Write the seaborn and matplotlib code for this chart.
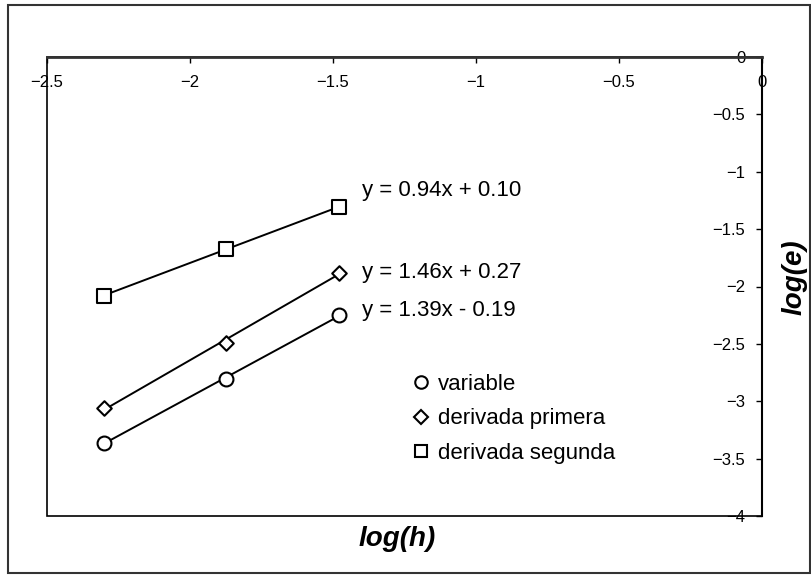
import numpy as np
import pandas as pd
import matplotlib
matplotlib.use("Agg")
import matplotlib.pyplot as plt
from matplotlib.lines import Line2D
from matplotlib.patches import Rectangle
import seaborn as sns

sns.set_theme(style="white")
plt.rcParams['font.family'] = ['Liberation Sans', 'DejaVu Sans']
plt.rcParams['text.color'] = 'black'
plt.rcParams['xtick.color'] = 'black'
plt.rcParams['ytick.color'] = 'black'

# data
log_h = [-2.30, -1.875, -1.48]
variable = [-3.36, -2.81, -2.25]
primera = [-3.06, -2.49, -1.88]
segunda = [-2.08, -1.67, -1.31]
series_names = ["variable", "derivada primera", "derivada segunda"]
equations = ["y = 1.39x - 0.19", "y = 1.46x + 0.27", "y = 0.94x + 0.10"]
eq_y = [-2.21, -1.88, -1.16]
x_ticks = [-2.5, -2, -1.5, -1, -0.5, 0]
y_ticks = [0, -0.5, -1, -1.5, -2, -2.5, -3, -3.5, -4]

markers = {"variable": "o", "derivada primera": "D", "derivada segunda": "s"}
msizes = {"variable": 100, "derivada primera": 55, "derivada segunda": 90}

df = pd.DataFrame({
    "log_h": log_h * 3,
    "log_e": variable + primera + segunda,
    "serie": [s for s in series_names for _ in log_h],
})

fig = plt.figure(figsize=(8.12, 5.75), dpi=100)
ax = fig.add_axes([47/812, 1-516/575, 715/812, 459/575])

#trend lines (excel style linear fit over the data range)
for name in series_names:
    sub = df[df.serie == name]
    sns.regplot(data=sub, x="log_h", y="log_e", scatter=False, ci=None, truncate=True,
                color="black", line_kws={"lw": 1.4}, ax=ax)

for name in series_names:
    sub = df[df.serie == name]
    sns.scatterplot(data=sub, x="log_h", y="log_e", marker=markers[name], s=msizes[name],
                    color="white", edgecolor="black", linewidth=1.5, zorder=5, ax=ax, legend=False)

for txt, yy in zip(equations, eq_y):
    ax.text(-1.40, yy, txt, fontsize=16, va="center", ha="left")

ax.set_xlim(-2.5, 0)
ax.set_ylim(-4, 0)
ax.set_xticks(x_ticks)
ax.set_yticks(y_ticks)
ax.set_xticklabels([f"{v:g}".replace("-", "\u2212") for v in x_ticks])
ax.set_yticklabels([f"{v:g}".replace("-", "\u2212") for v in y_ticks])

# axes cross at (0,0): x axis on top, y axis on the right
ax.spines['bottom'].set_position(('data', 0))
ax.spines['left'].set_position(('data', 0))
ax.spines['top'].set_visible(False)
ax.spines['right'].set_visible(False)
ax.spines['bottom'].set_color('#333333')
ax.spines['bottom'].set_linewidth(2)
ax.spines['left'].set_color('black')
ax.spines['left'].set_linewidth(1.5)
ax.patch.set_edgecolor('black')
ax.patch.set_linewidth(1.2)
ax.tick_params(axis='x', direction='out', length=4, width=1, pad=9, labelsize=12)
ax.tick_params(axis='y', direction='out', length=4, width=1, pad=8, labelsize=12)
ax.tick_params(bottom=True, left=True)
ax.set_xlabel("")
ax.set_ylabel("")

ax.text(0.49, -0.05, "log(h)", transform=ax.transAxes, fontsize=20, fontweight='bold',
        fontstyle='italic', ha='center', va='center')
fig.text(795/812, 1-277/575, "log(e)", fontsize=20, fontweight='bold', fontstyle='italic',
         rotation=90, ha='center', va='center')

handles = [Line2D([], [], ls='none', marker=markers[n], markersize=9 if n != "derivada primera" else 7,
                  markerfacecolor='white', markeredgecolor='black', markeredgewidth=1.5) for n in series_names]
ax.legend(handles, series_names, loc='upper left', bbox_to_anchor=(0.51, 0.31), frameon=False,
          fontsize=16, handlelength=0.8, handletextpad=0.4, labelspacing=0.62,
          borderpad=0, borderaxespad=0)

fig.patches.append(Rectangle((8/812, 2/575), 802/812, 568/575, transform=fig.transFigure,
                             fill=False, edgecolor='#333333', linewidth=1.5))

fig.savefig("out.png", dpi=100)
